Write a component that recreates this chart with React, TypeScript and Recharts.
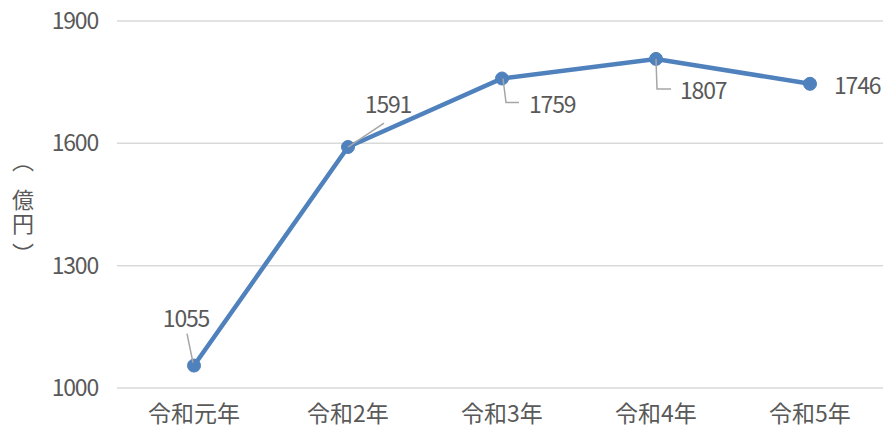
import React from 'react';
import { LineChart, Line, XAxis, YAxis, CartesianGrid, LabelList } from 'recharts';

const categories = ['令和元年', '令和2年', '令和3年', '令和4年', '令和5年'];
const values = [1055, 1591, 1759, 1807, 1746];
const yTicks = [1000, 1300, 1600, 1900];

const data = categories.map((c, i) => ({ name: c, value: values[i] }));

const FONT = "'Noto Sans CJK JP', sans-serif";
const TEXT = '#595959';
const LEADER = '#a6a6a6';

// label placement style (relative to each point)
const labelStyle = [
  { dx: -8, dy: -49, anchor: 'middle', leader: [[-7, -32], [-1, -3]] },
  { dx: 40, dy: -44, anchor: 'middle', leader: [[0, 0], [36, -24]] },
  { dx: 27, dy: 25, anchor: 'start', leader: [[1, 0], [4, 24], [17, 24]] },
  { dx: 24, dy: 30, anchor: 'start', leader: [[0, 0], [1, 30], [15, 30]] },
  { dx: 24, dy: 0, anchor: 'start', leader: null },
];

const renderLabel = (props: any) => {
  const { x, y, value, index } = props;
  const s = labelStyle[index];
  if (!s) return null;
  const d = s.leader
    ? s.leader.map((p: number[], i: number) => `${i === 0 ? 'M' : 'L'}${x + p[0]},${y + p[1]}`).join(' ')
    : null;
  return (
    <g>
      {d && <path d={d} stroke={LEADER} strokeWidth={1.5} fill="none" />}
      <text
        x={x + s.dx}
        y={y + s.dy}
        textAnchor={s.anchor}
        dominantBaseline="central"
        fill={TEXT}
        fontSize={23}
        letterSpacing={-1.2}
        fontFamily={FONT}
      >
        {value}
      </text>
    </g>
  );
};

const YLabel = () => {
  const cx = 23;
  return (
    <text fontSize={22} fill={TEXT} fontFamily={FONT} textAnchor="middle" dominantBaseline="central">
      <tspan x={cx} y={159}>︵</tspan>
      <tspan x={cx} y={198}>億</tspan>
      <tspan x={cx} y={222}>円</tspan>
      <tspan x={cx} y={252}>︶</tspan>
    </text>
  );
};

export default function App() {
  return (
    <div style={{ position: 'absolute', left: 0, top: 0, width: 883, height: 428, overflow: 'hidden', background: '#fff' }}>
      <LineChart width={887} height={428} data={data} margin={{ top: 21, right: 0, bottom: 0, left: 0 }}>
        <CartesianGrid vertical={false} stroke="#d9d9d9" strokeWidth={1.5} />
        <XAxis
          dataKey="name"
          axisLine={false}
          tickLine={false}
          height={40}
          padding={{ left: 77, right: 77 }}
          tick={{ fill: TEXT, fontSize: 23, fontFamily: FONT, dy: 10 }}
          interval={0}
        />
        <YAxis
          domain={[1000, 1900]}
          ticks={yTicks}
          axisLine={false}
          tickLine={false}
          width={117}
          tickMargin={13}
          tick={{ fill: TEXT, fontSize: 23, fontFamily: FONT, letterSpacing: -1.2 }}
          label={{ content: <YLabel /> }}
        />
        <Line
          dataKey="value"
          stroke="#4f81bd"
          strokeWidth={4.5}
          dot={{ r: 6.5, fill: '#4f81bd', stroke: '#4f81bd', strokeWidth: 1 }}
          isAnimationActive={false}
        >
          <LabelList dataKey="value" content={renderLabel} />
        </Line>
      </LineChart>
    </div>
  );
}
